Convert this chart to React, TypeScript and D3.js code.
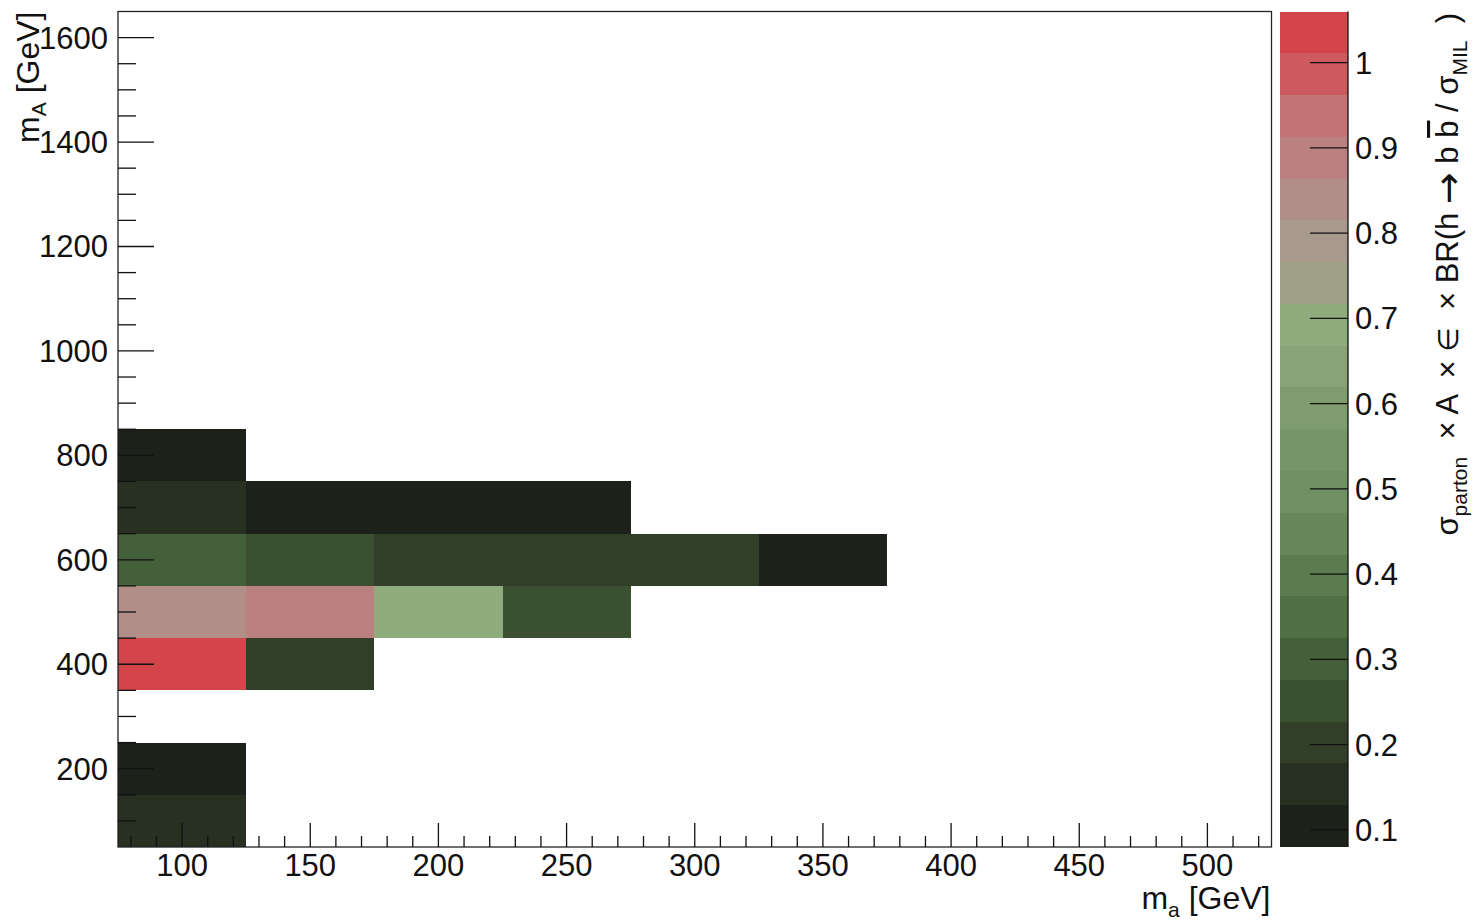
import React from "react";
import * as d3 from "d3";

// Bin centres (m_a, m_A) in GeV and the normalised yield in each filled bin
const cellMa = [100, 100, 100, 100, 100, 100, 100, 150, 150, 150, 150, 200, 200, 200, 250, 250, 250, 300, 350];
const cellMA = [100, 200, 400, 500, 600, 700, 800, 400, 500, 600, 700, 500, 600, 700, 500, 600, 700, 600, 600];
const cellZ = [0.15, 0.1, 1.06, 0.83, 0.3, 0.15, 0.1, 0.2, 0.89, 0.25, 0.1, 0.69, 0.2, 0.1, 0.25, 0.2, 0.1, 0.2, 0.08];

const binWidthX = 50;
const binWidthY = 100;

// Axis ticks
const xTicks = [100, 150, 200, 250, 300, 350, 400, 450, 500];
const yTicks = [200, 400, 600, 800, 1000, 1200, 1400, 1600];
const zTicks = [0.1, 0.2, 0.3, 0.4, 0.5, 0.6, 0.7, 0.8, 0.9, 1.0];

// 20-level palette, lowest contour first
const palette = [
  "#1c221a", "#273021", "#313f28", "#3a5030", "#44603a",
  "#4f6f44", "#5a7c4f", "#65875a", "#6f9062", "#779668",
  "#7e9c6e", "#88a476", "#8fac7c", "#a0a288", "#a99a8e",
  "#b18e88", "#bb8080", "#c37276", "#cc5a5e", "#d4454b",
];

const W = 1476;
const H = 924;
const frame = { left: 118, right: 1271.5, top: 11.5, bottom: 847 };
const bar = { left: 1280, right: 1348 };
const FONT = "'Liberation Sans', Arial, Helvetica, sans-serif";
const SYM = "'DejaVu Sans', sans-serif";
const FS = 31;
const TFS = 32;

export default function App() {
  const x = d3.scaleLinear().domain([75, 525]).range([frame.left, frame.right]);
  const y = d3.scaleLinear().domain([50, 1650]).range([frame.bottom, frame.top]);
  const [zmin, zmax] = d3.extent(cellZ) as [number, number];
  const color = d3.scaleQuantize<string>().domain([zmin, zmax]).range(palette);
  const z = d3.scaleLinear().domain([zmin, zmax]).range([frame.bottom, frame.top]);

  const xMinor = d3.range(80, 525, 10).filter((v) => v % 50 !== 0);
  const yMinor = d3.range(50, 1650, 50).filter((v) => v % 200 !== 0 && v > 50);

  const step = (zmax - zmin) / palette.length;
  const bands = palette.map((c, i) => ({ c, lo: zmin + i * step, hi: zmin + (i + 1) * step }));

  return (
    <svg
      width={W}
      height={H}
      style={{ position: "absolute", left: 0, top: 0, background: "#fff" }}
      fontFamily={FONT}
    >
      <rect x={0} y={0} width={W} height={H} fill="#fff" />

      {/* histogram cells */}
      <g shapeRendering="crispEdges">
        {cellZ.map((v, i) => {
          const x0 = x(cellMa[i] - binWidthX / 2);
          const x1 = x(cellMa[i] + binWidthX / 2);
          const y0 = y(cellMA[i] + binWidthY / 2);
          const y1 = y(cellMA[i] - binWidthY / 2);
          return <rect key={i} x={x0} y={y0} width={x1 - x0} height={y1 - y0} fill={color(v)} />;
        })}
      </g>

      {/* frame */}
      <rect
        x={frame.left}
        y={frame.top}
        width={frame.right - frame.left}
        height={frame.bottom - frame.top}
        fill="none"
        stroke="#222"
        strokeWidth={1.3}
      />

      {/* x axis */}
      <g stroke="#111" strokeWidth={1.3}>
        {xTicks.map((t) => (
          <line key={t} x1={x(t)} x2={x(t)} y1={frame.bottom} y2={frame.bottom - 24} />
        ))}
        {xMinor.map((t) => (
          <line key={t} x1={x(t)} x2={x(t)} y1={frame.bottom} y2={frame.bottom - 11} />
        ))}
      </g>
      <g fontSize={FS} fill="#111" textAnchor="middle">
        {xTicks.map((t) => (
          <text key={t} x={x(t)} y={frame.bottom + 29}>
            {t}
          </text>
        ))}
      </g>
      <text x={frame.right - 1} y={909} fontSize={TFS} textAnchor="end" fill="#111">
        <tspan>m</tspan>
        <tspan dy={8} fontSize={21}>a</tspan>
        <tspan dy={-8}> [GeV]</tspan>
      </text>

      {/* y axis */}
      <g stroke="#111" strokeWidth={1.3}>
        {yTicks.map((t) => (
          <line key={t} x1={frame.left} x2={frame.left + 36} y1={y(t)} y2={y(t)} />
        ))}
        {yMinor.map((t) => (
          <line key={t} x1={frame.left} x2={frame.left + 18} y1={y(t)} y2={y(t)} />
        ))}
      </g>
      <g fontSize={FS} fill="#111" textAnchor="end">
        {yTicks.map((t) => (
          <text key={t} x={108} y={y(t) + 11}>
            {t}
          </text>
        ))}
      </g>
      <text transform={`translate(39,${frame.top}) rotate(-90)`} fontSize={TFS} textAnchor="end" fill="#111">
        <tspan>m</tspan>
        <tspan dy={7} fontSize={21}>A</tspan>
        <tspan dy={-7}> [GeV]</tspan>
      </text>

      {/* colour scale */}
      <g shapeRendering="crispEdges">
        {bands.map((b, i) => (
          <rect key={i} x={bar.left} y={z(b.hi)} width={bar.right - bar.left} height={z(b.lo) - z(b.hi)} fill={b.c} />
        ))}
      </g>
      <line x1={bar.right} x2={bar.right} y1={frame.top} y2={frame.bottom} stroke="#111" strokeWidth={1.3} />
      <g stroke="#111" strokeWidth={1.3}>
        {zTicks.map((t) => (
          <line key={t} x1={bar.right - 38} x2={bar.right} y1={z(t)} y2={z(t)} />
        ))}
      </g>
      <g fontSize={FS} fill="#111" textAnchor="start">
        {zTicks.map((t) => (
          <text key={t} x={bar.right + 7} y={z(t) + 11}>
            {d3.format("~g")(t)}
          </text>
        ))}
      </g>
      <text
        transform={`translate(1458,13) rotate(-90)`}
        fontSize={31}
        textAnchor="end"
        fill="#111"
        xmlSpace="preserve"
        style={{ whiteSpace: "pre" }}
      >
        <tspan>σ</tspan>
        <tspan dy={9} fontSize={21}>parton</tspan>
        <tspan dy={-9}>  × A  × </tspan>
        <tspan fontFamily={SYM} fontSize={28}>∈</tspan>
        <tspan>  × BR(h </tspan>
        <tspan fontFamily={SYM} fontSize={38} dy={3}>→</tspan>
        <tspan dy={-3}> b </tspan>
        <tspan style={{ textDecoration: "overline" }}>b</tspan>
        <tspan> / σ</tspan>
        <tspan dy={9} fontSize={21}>MIL</tspan>
        <tspan dy={-9}>  )</tspan>
      </text>
    </svg>
  );
}
